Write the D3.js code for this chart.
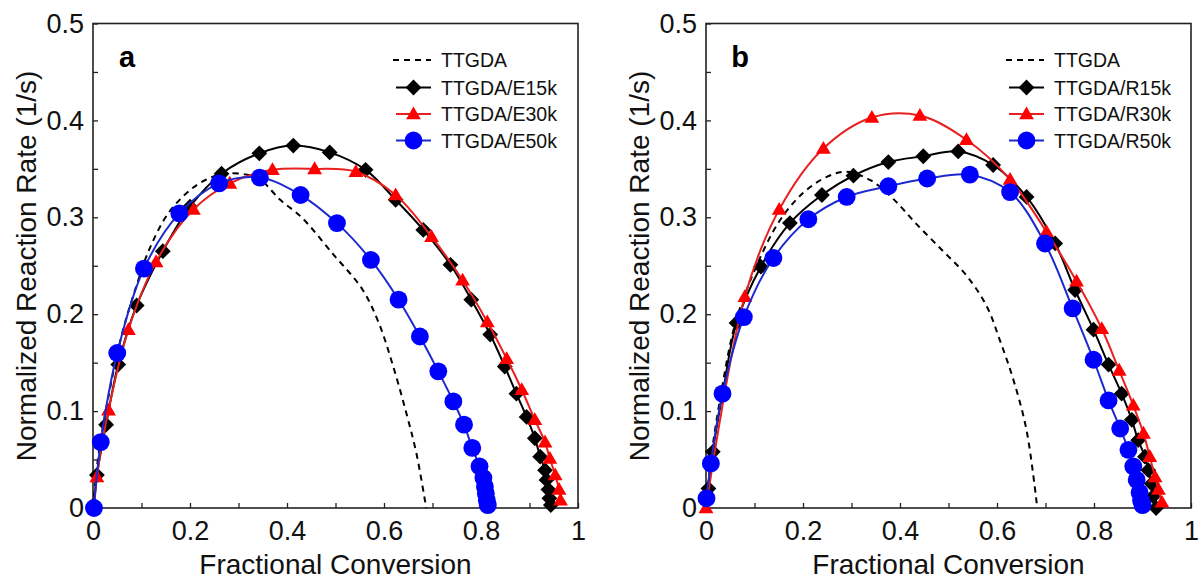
<!DOCTYPE html>
<html>
<head>
<meta charset="utf-8">
<script src="https://cdn.jsdelivr.net/npm/d3@7"></script>
<style>
  html, body { margin: 0; padding: 0; background: #fff; }
  svg { display: block; font-family: "Liberation Sans", Arial, sans-serif; }
</style>
</head>
<body>
<svg id="chart" width="1199" height="580"></svg>
<script>
// ---------- DATA ----------
const xTicks = [0, 0.1, 0.2, 0.3, 0.4, 0.5, 0.6, 0.7, 0.8, 0.9, 1];
const xTickLabels = ["0", "", "0.2", "", "0.4", "", "0.6", "", "0.8", "", "1"];
const yTicks = [0, 0.05, 0.1, 0.15, 0.2, 0.25, 0.3, 0.35, 0.4, 0.45, 0.5];
const yTickLabels = ["0", "", "0.1", "", "0.2", "", "0.3", "", "0.4", "", "0.5"];

const panelLetters = ["a", "b"];
const xTitle = "Fractional Conversion";
const yTitle = "Normalized Reaction Rate (1/s)";

const legendA = ["TTGDA", "TTGDA/E15k", "TTGDA/E30k", "TTGDA/E50k"];
const legendB = ["TTGDA", "TTGDA/R15k", "TTGDA/R30k", "TTGDA/R50k"];

// Panel a
const ttgdaA = [[0,0],[0.01,0.05],[0.03,0.11],[0.06,0.18],[0.09,0.23],[0.117,0.268],[0.155,0.304],[0.2,0.328],[0.234,0.339],[0.269,0.345],[0.317,0.344],[0.347,0.338],[0.386,0.318],[0.43,0.30],[0.495,0.262],[0.555,0.226],[0.59,0.19],[0.619,0.146],[0.646,0.098],[0.667,0.056],[0.687,0.0]];
const e15k = [[0.002,0.003],[0.008,0.034],[0.027,0.086],[0.052,0.148],[0.09,0.209],[0.144,0.265],[0.2,0.311],[0.265,0.345],[0.343,0.366],[0.413,0.374],[0.488,0.367],[0.562,0.349],[0.624,0.318],[0.681,0.287],[0.737,0.251],[0.78,0.215],[0.819,0.179],[0.849,0.146],[0.873,0.118],[0.894,0.094],[0.911,0.072],[0.922,0.053],[0.932,0.039],[0.935,0.029],[0.939,0.019],[0.941,0.01],[0.944,0.003]];
const e30k = [[0.002,0.0],[0.008,0.032],[0.032,0.101],[0.073,0.184],[0.13,0.254],[0.207,0.308],[0.282,0.335],[0.37,0.349],[0.457,0.35],[0.542,0.347],[0.624,0.323],[0.698,0.28],[0.762,0.235],[0.813,0.192],[0.853,0.154],[0.884,0.122],[0.911,0.091],[0.932,0.068],[0.942,0.051],[0.953,0.034],[0.961,0.019],[0.964,0.008]];
const e50k = [[0.002,0.0],[0.016,0.068],[0.05,0.16],[0.105,0.247],[0.178,0.304],[0.26,0.335],[0.344,0.341],[0.428,0.323],[0.503,0.294],[0.573,0.256],[0.63,0.215],[0.674,0.177],[0.712,0.141],[0.743,0.11],[0.765,0.086],[0.782,0.062],[0.797,0.043],[0.805,0.031],[0.808,0.022],[0.81,0.015],[0.812,0.008],[0.814,0.003]];

// Panel b
const ttgdaB = [[0,0],[0.01,0.05],[0.03,0.115],[0.06,0.19],[0.1,0.245],[0.15,0.295],[0.2,0.325],[0.25,0.342],[0.29,0.347],[0.34,0.338],[0.386,0.319],[0.434,0.293],[0.489,0.265],[0.537,0.24],[0.579,0.208],[0.606,0.173],[0.634,0.132],[0.661,0.08],[0.683,0.0]];
const r15k = [[0.005,0.02],[0.014,0.058],[0.035,0.12],[0.063,0.191],[0.113,0.249],[0.173,0.294],[0.239,0.323],[0.304,0.343],[0.376,0.357],[0.448,0.363],[0.52,0.368],[0.592,0.354],[0.661,0.321],[0.72,0.273],[0.761,0.225],[0.799,0.184],[0.83,0.148],[0.857,0.118],[0.878,0.091],[0.891,0.07],[0.905,0.053],[0.912,0.039],[0.919,0.025],[0.922,0.012],[0.928,0.0]];
const r30k = [[0,0],[0.08,0.218],[0.151,0.308],[0.242,0.371],[0.342,0.403],[0.441,0.405],[0.537,0.38],[0.627,0.339],[0.702,0.285],[0.764,0.234],[0.816,0.185],[0.852,0.142],[0.881,0.106],[0.902,0.077],[0.915,0.053],[0.926,0.032],[0.933,0.019],[0.94,0.006]];
const r50k = [[0.001,0.01],[0.01,0.046],[0.034,0.118],[0.078,0.197],[0.139,0.258],[0.211,0.298],[0.29,0.321],[0.376,0.332],[0.456,0.34],[0.544,0.344],[0.627,0.326],[0.699,0.273],[0.756,0.206],[0.799,0.153],[0.83,0.111],[0.854,0.082],[0.871,0.06],[0.881,0.043],[0.888,0.029],[0.894,0.016],[0.897,0.008],[0.9,0.003]];

// ---------- STYLE ----------
const seriesStyle = [
  { type: "dash" },
  { type: "diamond", line: "#000000", fill: "#000000" },
  { type: "triangle", line: "#e8201f", fill: "#ff0000" },
  { type: "circle", line: "#1c28d0", fill: "#0000ff" }
];

const panels = [
  { left: 93, letter: panelLetters[0], legend: legendA, series: [ttgdaA, e15k, e30k, e50k] },
  { left: 706, letter: panelLetters[1], legend: legendB, series: [ttgdaB, r15k, r30k, r50k] }
];

const W = 485, TOP = 23.5, BOTTOM = 508;
const svg = d3.select("#chart");
svg.append("rect").attr("width", 1199).attr("height", 580).attr("fill", "#fff");

function markerPath(type) {
  if (type === "diamond") return d3.symbol(d3.symbolSquare, 125)();
  if (type === "triangle") return d3.symbol(d3.symbolTriangle, 95)();
  if (type === "circle") return d3.symbol(d3.symbolCircle, 250)();
  return null;
}
function drawMarker(g, type, color, px, py) {
  const p = g.append("path").attr("d", markerPath(type)).attr("fill", color);
  if (type === "diamond") p.attr("transform", `translate(${px},${py}) rotate(45)`);
  else if (type === "triangle") p.attr("transform", `translate(${px},${py + 1})`);
  else p.attr("transform", `translate(${px},${py})`);
}

panels.forEach(pn => {
  const x = d3.scaleLinear().domain([0, 1]).range([pn.left, pn.left + W]);
  const y = d3.scaleLinear().domain([0, 0.5]).range([BOTTOM, TOP]);
  const g = svg.append("g");

  // X axis
  const xAxis = d3.axisBottom(x).tickValues(xTicks).tickSize(-5).tickPadding(13)
    .tickFormat((d, i) => xTickLabels[i]);
  const gx = g.append("g").attr("transform", `translate(0,${BOTTOM})`).call(xAxis);
  // Y axis
  const yAxis = d3.axisLeft(y).tickValues(yTicks).tickSize(-5).tickPadding(9)
    .tickFormat((d, i) => yTickLabels[i]);
  const gy = g.append("g").attr("transform", `translate(${pn.left},0)`).call(yAxis);
  [gx, gy].forEach(a => {
    a.select(".domain").remove();
    a.selectAll(".tick line").attr("stroke", "#222").attr("stroke-width", 1.3);
    a.selectAll("text").attr("font-size", 27).attr("fill", "#111")
      .attr("font-family", "'Liberation Sans', Arial, sans-serif");
  });

  // frame
  g.append("rect").attr("x", pn.left).attr("y", TOP).attr("width", W).attr("height", BOTTOM - TOP)
    .attr("fill", "none").attr("stroke", "#222").attr("stroke-width", 1.6);

  // titles
  g.append("text").attr("x", pn.left + W / 2).attr("y", 574).attr("text-anchor", "middle")
    .attr("font-size", 28).attr("fill", "#111").text(xTitle);
  g.append("text").attr("transform", `translate(${pn.left - 57},${266}) rotate(-90)`)
    .attr("text-anchor", "middle").attr("font-size", 28).attr("fill", "#111").text(yTitle);

  // panel letter
  g.append("text").attr("x", pn.left + 34).attr("y", 67).attr("text-anchor", "middle")
    .attr("font-size", 29).attr("font-weight", "bold").attr("fill", "#000").text(pn.letter);

  // series
  const lineGen = d3.line().x(d => x(d[0])).y(d => y(d[1])).curve(d3.curveCatmullRom.alpha(0.5));
  pn.series.forEach((data, si) => {
    const st = seriesStyle[si];
    if (st.type === "dash") {
      g.append("path").datum(data).attr("d", lineGen).attr("fill", "none")
        .attr("stroke", "#000").attr("stroke-width", 2).attr("stroke-dasharray", "6,5");
      return;
    }
    g.append("path").datum(data).attr("d", lineGen).attr("fill", "none")
      .attr("stroke", st.line).attr("stroke-width", 2);
    data.forEach(d => drawMarker(g, st.type, st.fill, x(d[0]), y(d[1])));
  });

  // legend
  const rows = [60, 87.5, 114, 140.5];
  const lx0 = pn.left + 303, lx1 = pn.left + 338, tx = pn.left + 348;
  pn.legend.forEach((lab, i) => {
    const st = seriesStyle[i];
    const ry = rows[i];
    if (st.type === "dash") {
      g.append("line").attr("x1", lx0 - 3).attr("x2", lx1).attr("y1", ry).attr("y2", ry)
        .attr("stroke", "#000").attr("stroke-width", 2).attr("stroke-dasharray", "6,5");
    } else {
      g.append("line").attr("x1", lx0).attr("x2", lx1).attr("y1", ry).attr("y2", ry)
        .attr("stroke", st.line).attr("stroke-width", 2);
      drawMarker(g, st.type, st.fill, (lx0 + lx1) / 2, ry);
    }
    g.append("text").attr("x", tx).attr("y", ry + 7).attr("font-size", 19.5)
      .attr("fill", "#111").text(lab);
  });
});
</script>
</body>
</html>
